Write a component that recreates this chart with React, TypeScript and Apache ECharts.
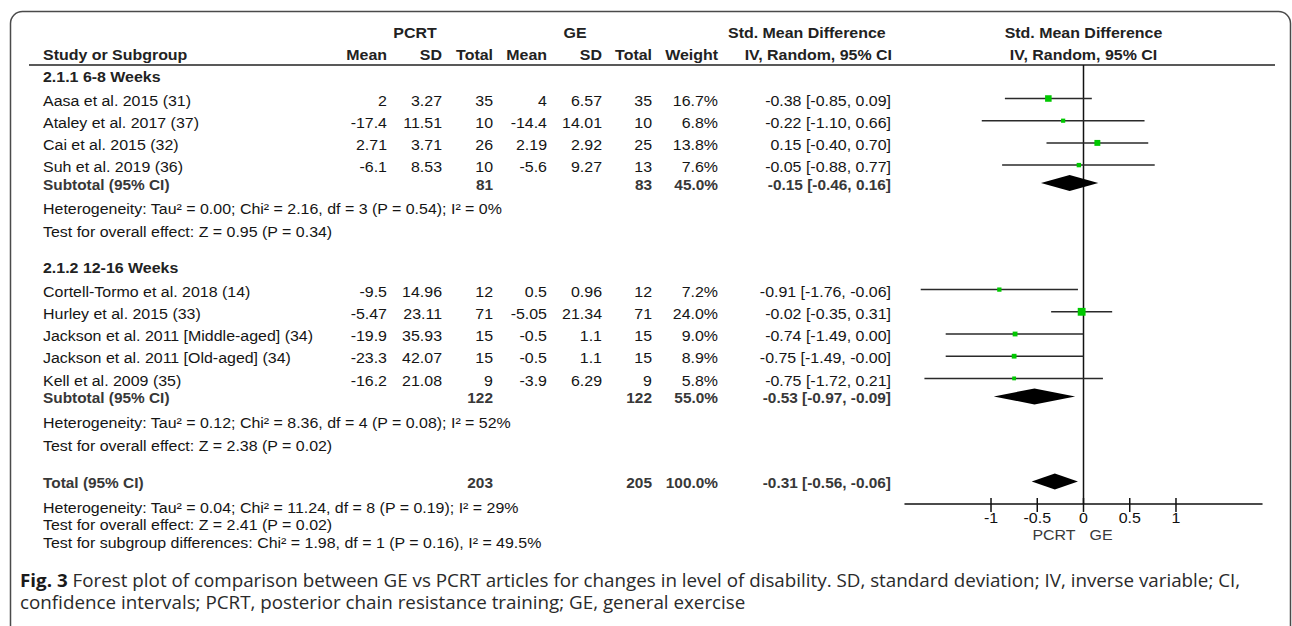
import React, { useEffect, useRef } from "react";
import * as echarts from "echarts";

// ---------------- data ----------------
const groupNames = ["2.1.1 6-8 Weeks", "2.1.2 12-16 Weeks"];
const studies = [
  "Aasa et al. 2015 (31)",
  "Ataley et al. 2017 (37)",
  "Cai et al. 2015 (32)",
  "Suh et al. 2019 (36)",
  "Cortell-Tormo et al. 2018 (14)",
  "Hurley et al. 2015 (33)",
  "Jackson et al. 2011 [Middle-aged] (34)",
  "Jackson et al. 2011 [Old-aged] (34)",
  "Kell et al. 2009 (35)",
];
const studyGroup = [0, 0, 0, 0, 1, 1, 1, 1, 1];
const pcrtMean = [2, -17.4, 2.71, -6.1, -9.5, -5.47, -19.9, -23.3, -16.2];
const pcrtSD = [3.27, 11.51, 3.71, 8.53, 14.96, 23.11, 35.93, 42.07, 21.08];
const pcrtN = [35, 10, 26, 10, 12, 71, 15, 15, 9];
const geMean = [4, -14.4, 2.19, -5.6, 0.5, -5.05, -0.5, -0.5, -3.9];
const geSD = [6.57, 14.01, 2.92, 9.27, 0.96, 21.34, 1.1, 1.1, 6.29];
const geN = [35, 10, 25, 13, 12, 71, 15, 15, 9];
const weight = [16.7, 6.8, 13.8, 7.6, 7.2, 24.0, 9.0, 8.9, 5.8];
const smd = [-0.38, -0.22, 0.15, -0.05, -0.91, -0.02, -0.74, -0.75, -0.75];
const ciLow = [-0.85, -1.1, -0.4, -0.88, -1.76, -0.35, -1.49, -1.49, -1.72];
const ciHigh = [0.09, 0.66, 0.7, 0.77, -0.06, 0.31, 0.0, -0, 0.21];

const subPcrtN = [81, 122];
const subGeN = [83, 122];
const subWeight = [45.0, 55.0];
const subSmd = [-0.15, -0.53];
const subLow = [-0.46, -0.97];
const subHigh = [0.16, -0.09];
const subHet = [
  "Heterogeneity: Tau² = 0.00; Chi² = 2.16, df = 3 (P = 0.54); I² = 0%",
  "Heterogeneity: Tau² = 0.12; Chi² = 8.36, df = 4 (P = 0.08); I² = 52%",
];
const subEffect = [
  "Test for overall effect: Z = 0.95 (P = 0.34)",
  "Test for overall effect: Z = 2.38 (P = 0.02)",
];

const totalPcrtN = 203;
const totalGeN = 205;
const totalWeight = 100.0;
const totalSmd = -0.31;
const totalLow = -0.56;
const totalHigh = -0.06;
const totalNotes = [
  "Heterogeneity: Tau² = 0.04; Chi² = 11.24, df = 8 (P = 0.19); I² = 29%",
  "Test for overall effect: Z = 2.41 (P = 0.02)",
  "Test for subgroup differences: Chi² = 1.98, df = 1 (P = 0.16), I² = 49.5%",
];

const axisTicks = [-1, -0.5, 0, 0.5, 1];
const favourLeft = "PCRT";
const favourRight = "GE";
const captionBold = "Fig. 3";
const captionLine1 =
  " Forest plot of comparison between GE vs PCRT articles for changes in level of disability. SD, standard deviation; IV, inverse variable; CI,";
const captionLine2 =
  "confidence intervals; PCRT, posterior chain resistance training; GE, general exercise";

// ---------------- layout ----------------
const W = 1292;
const H = 626;
const FONT = "'Liberation Sans', Arial, Helvetica, sans-serif";
const CAP_FONT = "'Open Sans', 'Noto Sans', sans-serif";
const FS = 14.5;
const SX = 1.1;
const GRID_LEFT = 905;
const GRID_W = 357;
const GRID_TOP = 65;
const AXIS_Y = 504;
const X_MIN = -1.93;
const X_MAX = 1.93;
const LEFT_X = 43;
const COL = { mean1: 387, sd1: 442, n1: 493, mean2: 547, sd2: 602, n2: 652, w: 718, ci: 891 };
const ZERO_X = GRID_LEFT + ((0 - X_MIN) / (X_MAX - X_MIN)) * GRID_W;
const MARK_OFF = -2;

type Row = { kind: string; y: number; idx?: number; g?: number; text?: string };

function buildRows(): Row[] {
  const rows: Row[] = [];
  let y = 77;
  groupNames.forEach((name, g) => {
    if (g > 0) y += 36;
    rows.push({ kind: "group", y, g, text: name });
    y += 23.5;
    const members = studyGroup.map((gg, i) => (gg === g ? i : -1)).filter((i) => i >= 0);
    members.forEach((i, k) => {
      if (k > 0) y += 22.2;
      rows.push({ kind: "study", y, idx: i });
    });
    y += 18;
    rows.push({ kind: "subtotal", y, g });
    y += 24;
    rows.push({ kind: "note", y, text: subHet[g] });
    y += 23;
    rows.push({ kind: "note", y, text: subEffect[g] });
  });
  y += 38;
  rows.push({ kind: "total", y });
  y += 24;
  totalNotes.forEach((t, k) => {
    if (k > 0) y += 17.5;
    rows.push({ kind: "note", y, text: t });
  });
  return rows;
}

function f2(v: number): string {
  if (Object.is(v, -0)) return "-0.00";
  return v.toFixed(2);
}
function ciText(e: number, l: number, h: number) {
  return `${f2(e)} [${f2(l)}, ${f2(h)}]`;
}

function txt(
  text: string,
  x: number,
  y: number,
  o: { align?: string; bold?: boolean; fill?: string; size?: number; sx?: number } = {}
) {
  return {
    type: "text",
    x,
    y,
    scaleX: o.sx ?? SX,
    silent: true,
    style: {
      text,
      fontFamily: FONT,
      fontSize: o.size ?? FS,
      fontWeight: o.bold ? "bold" : "normal",
      fill: o.fill ?? "#151515",
      align: o.align ?? "left",
      verticalAlign: "middle",
      textAlign: o.align ?? "left",
      textVerticalAlign: "middle",
    },
  };
}

function buildOption() {
  const rows = buildRows();
  const g: any[] = [];

  // frame
  g.push({
    type: "rect",
    silent: true,
    shape: { x: 10.5, y: 11.5, width: 1280, height: 700, r: 12 },
    style: { fill: "none", stroke: "#4a4a4a", lineWidth: 1.5 },
  });
  // header rule
  g.push({
    type: "line",
    silent: true,
    shape: { x1: 29, y1: GRID_TOP, x2: 1275, y2: GRID_TOP },
    style: { stroke: "#222", lineWidth: 1.5 },
  });

  const HB = { bold: true, fill: "#222" };
  g.push(txt("PCRT", 415, 33, { ...HB, align: "center" }));
  g.push(txt("GE", 575, 33, { ...HB, align: "center" }));
  g.push(txt("Std. Mean Difference", 728, 33, { ...HB }));
  g.push(txt("Std. Mean Difference", ZERO_X, 33, { ...HB, align: "center" }));
  g.push(txt("Study or Subgroup", LEFT_X, 55, { ...HB }));
  g.push(txt("Mean", COL.mean1, 55, { ...HB, align: "right" }));
  g.push(txt("SD", COL.sd1, 55, { ...HB, align: "right" }));
  g.push(txt("Total", COL.n1, 55, { ...HB, align: "right" }));
  g.push(txt("Mean", COL.mean2, 55, { ...HB, align: "right" }));
  g.push(txt("SD", COL.sd2, 55, { ...HB, align: "right" }));
  g.push(txt("Total", COL.n2, 55, { ...HB, align: "right" }));
  g.push(txt("Weight", COL.w, 55, { ...HB, align: "right" }));
  g.push(txt("IV, Random, 95% CI", COL.ci + 1, 55, { ...HB, align: "right" }));
  g.push(txt("IV, Random, 95% CI", ZERO_X, 55, { ...HB, align: "center" }));

  const studyData: any[] = [];
  const diamondData: any[] = [];

  rows.forEach((r) => {
    if (r.kind === "group") {
      g.push(txt(r.text!, LEFT_X, r.y, { bold: true, fill: "#222" }));
    } else if (r.kind === "study") {
      const i = r.idx!;
      g.push(txt(studies[i], LEFT_X, r.y));
      g.push(txt(String(pcrtMean[i]), COL.mean1, r.y, { align: "right" }));
      g.push(txt(String(pcrtSD[i]), COL.sd1, r.y, { align: "right" }));
      g.push(txt(String(pcrtN[i]), COL.n1, r.y, { align: "right" }));
      g.push(txt(String(geMean[i]), COL.mean2, r.y, { align: "right" }));
      g.push(txt(String(geSD[i]), COL.sd2, r.y, { align: "right" }));
      g.push(txt(String(geN[i]), COL.n2, r.y, { align: "right" }));
      g.push(txt(weight[i].toFixed(1) + "%", COL.w, r.y, { align: "right" }));
      g.push(txt(ciText(smd[i], ciLow[i], ciHigh[i]), COL.ci, r.y, { align: "right" }));
      studyData.push([smd[i], ciLow[i], ciHigh[i], weight[i], r.y + MARK_OFF - GRID_TOP]);
    } else if (r.kind === "subtotal") {
      const k = r.g!;
      const o = { bold: true, fill: "#383838", size: 14 };
      g.push(txt("Subtotal (95% CI)", LEFT_X, r.y, o));
      g.push(txt(String(subPcrtN[k]), COL.n1, r.y, { ...o, align: "right" }));
      g.push(txt(String(subGeN[k]), COL.n2, r.y, { ...o, align: "right" }));
      g.push(txt(subWeight[k].toFixed(1) + "%", COL.w, r.y, { ...o, align: "right" }));
      g.push(txt(ciText(subSmd[k], subLow[k], subHigh[k]), COL.ci, r.y, { ...o, align: "right" }));
      diamondData.push([subSmd[k], subLow[k], subHigh[k], r.y + MARK_OFF - GRID_TOP]);
    } else if (r.kind === "total") {
      const o = { bold: true, fill: "#383838", size: 14 };
      g.push(txt("Total (95% CI)", LEFT_X, r.y, o));
      g.push(txt(String(totalPcrtN), COL.n1, r.y, { ...o, align: "right" }));
      g.push(txt(String(totalGeN), COL.n2, r.y, { ...o, align: "right" }));
      g.push(txt(totalWeight.toFixed(1) + "%", COL.w, r.y, { ...o, align: "right" }));
      g.push(txt(ciText(totalSmd, totalLow, totalHigh), COL.ci, r.y, { ...o, align: "right" }));
      diamondData.push([totalSmd, totalLow, totalHigh, r.y + MARK_OFF - GRID_TOP]);
    } else if (r.kind === "note") {
      g.push(txt(r.text!, LEFT_X, r.y));
    }
  });

  // favours labels
  g.push(txt(favourLeft, ZERO_X - 8, 535, { align: "right", fill: "#3a3a3a" }));
  g.push(txt(favourRight, ZERO_X + 6, 535, { align: "left", fill: "#3a3a3a" }));

  // caption
  const CAP_SIZE = 18;
  const CAP_SX = 1.045;
  g.push({
    type: "text",
    x: 20,
    y: 580,
    scaleX: CAP_SX,
    silent: true,
    style: {
      text: `{b|${captionBold}}${captionLine1}`,
      fontFamily: CAP_FONT,
      fontSize: CAP_SIZE,
      fill: "#2a2a2a",
      verticalAlign: "middle",
      textVerticalAlign: "middle",
      rich: {
        b: { fontWeight: "bold", fontFamily: CAP_FONT, fontSize: CAP_SIZE, fill: "#1a1a1a" },
      },
    },
  });
  g.push({
    type: "text",
    x: 20,
    y: 602,
    scaleX: CAP_SX,
    silent: true,
    style: {
      text: captionLine2,
      fontFamily: CAP_FONT,
      fontSize: CAP_SIZE,
      fill: "#2a2a2a",
      verticalAlign: "middle",
      textVerticalAlign: "middle",
    },
  });

  const yMax = AXIS_Y - GRID_TOP;

  return {
    animation: false,
    backgroundColor: "#ffffff",
    grid: { left: GRID_LEFT, top: GRID_TOP, width: GRID_W, height: yMax, containLabel: false },
    xAxis: {
      type: "value",
      min: X_MIN,
      max: X_MAX,
      position: "bottom",
      axisLine: { show: true, onZero: false, lineStyle: { color: "#111", width: 1.5 } },
      axisTick: { show: false },
      axisLabel: { show: false },
      splitLine: { show: false },
    },
    yAxis: {
      type: "value",
      min: 0,
      max: yMax,
      inverse: true,
      show: false,
      splitLine: { show: false },
    },
    graphic: { elements: g },
    series: [
      {
        type: "custom",
        name: "zero",
        clip: false,
        data: [[0]],
        encode: { x: 0 },
        renderItem: (params: any, api: any) => {
          const a = api.coord([api.value(0), 0]);
          const b = api.coord([api.value(0), yMax]);
          return {
            type: "line",
            shape: { x1: a[0], y1: a[1], x2: b[0], y2: b[1] },
            style: { stroke: "#111", lineWidth: 1.5 },
          };
        },
      },
      {
        type: "custom",
        name: "ticks",
        clip: false,
        data: axisTicks.map((v) => [v]),
        encode: { x: 0 },
        renderItem: (params: any, api: any) => {
          const v = api.value(0);
          const p = api.coord([v, yMax]);
          return {
            type: "group",
            children: [
              {
                type: "line",
                shape: { x1: p[0], y1: p[1] - 6, x2: p[0], y2: p[1] + 8 },
                style: { stroke: "#111", lineWidth: 1.5 },
              },
              {
                type: "text",
                x: p[0],
                y: p[1] + 14,
                scaleX: SX,
                style: {
                  text: String(v),
                  fontFamily: FONT,
                  fontSize: FS,
                  fill: "#111",
                  align: "center",
                  verticalAlign: "middle",
                },
              },
            ],
          };
        },
      },
      {
        type: "custom",
        name: "studies",
        clip: false,
        data: studyData,
        encode: { x: [0, 1, 2], y: 4 },
        renderItem: (params: any, api: any) => {
          const y = api.value(4);
          const c = api.coord([api.value(0), y]);
          const l = api.coord([api.value(1), y]);
          const h = api.coord([api.value(2), y]);
          const s = Math.sqrt(api.value(3)) * 1.6;
          return {
            type: "group",
            children: [
              {
                type: "line",
                shape: { x1: l[0], y1: l[1], x2: h[0], y2: h[1] },
                style: { stroke: "#2a2a2a", lineWidth: 1.5 },
              },
              {
                type: "rect",
                shape: { x: c[0] - s / 2, y: c[1] - s / 2, width: s, height: s },
                style: { fill: "#00c800", stroke: "none" },
              },
            ],
          };
        },
      },
      {
        type: "custom",
        name: "diamonds",
        clip: false,
        data: diamondData,
        encode: { x: [0, 1, 2], y: 3 },
        renderItem: (params: any, api: any) => {
          const y = api.value(3);
          const c = api.coord([api.value(0), y]);
          const l = api.coord([api.value(1), y]);
          const h = api.coord([api.value(2), y]);
          const hh = 8;
          return {
            type: "polygon",
            shape: {
              points: [
                [l[0], l[1]],
                [c[0], c[1] - hh],
                [h[0], h[1]],
                [c[0], c[1] + hh],
              ],
            },
            style: { fill: "#000", stroke: "none" },
          };
        },
      },
    ],
  };
}

export default function App() {
  const ref = useRef<HTMLDivElement>(null);
  useEffect(() => {
    const el = ref.current;
    if (!el) return;
    const chart = echarts.init(el, undefined, { renderer: "svg", width: W, height: H });
    chart.setOption(buildOption() as any);
    return () => {
      chart.dispose();
    };
  }, []);
  return (
    <div
      ref={ref}
      style={{ position: "absolute", left: 0, top: 0, width: W, height: H, background: "#fff" }}
    />
  );
}
